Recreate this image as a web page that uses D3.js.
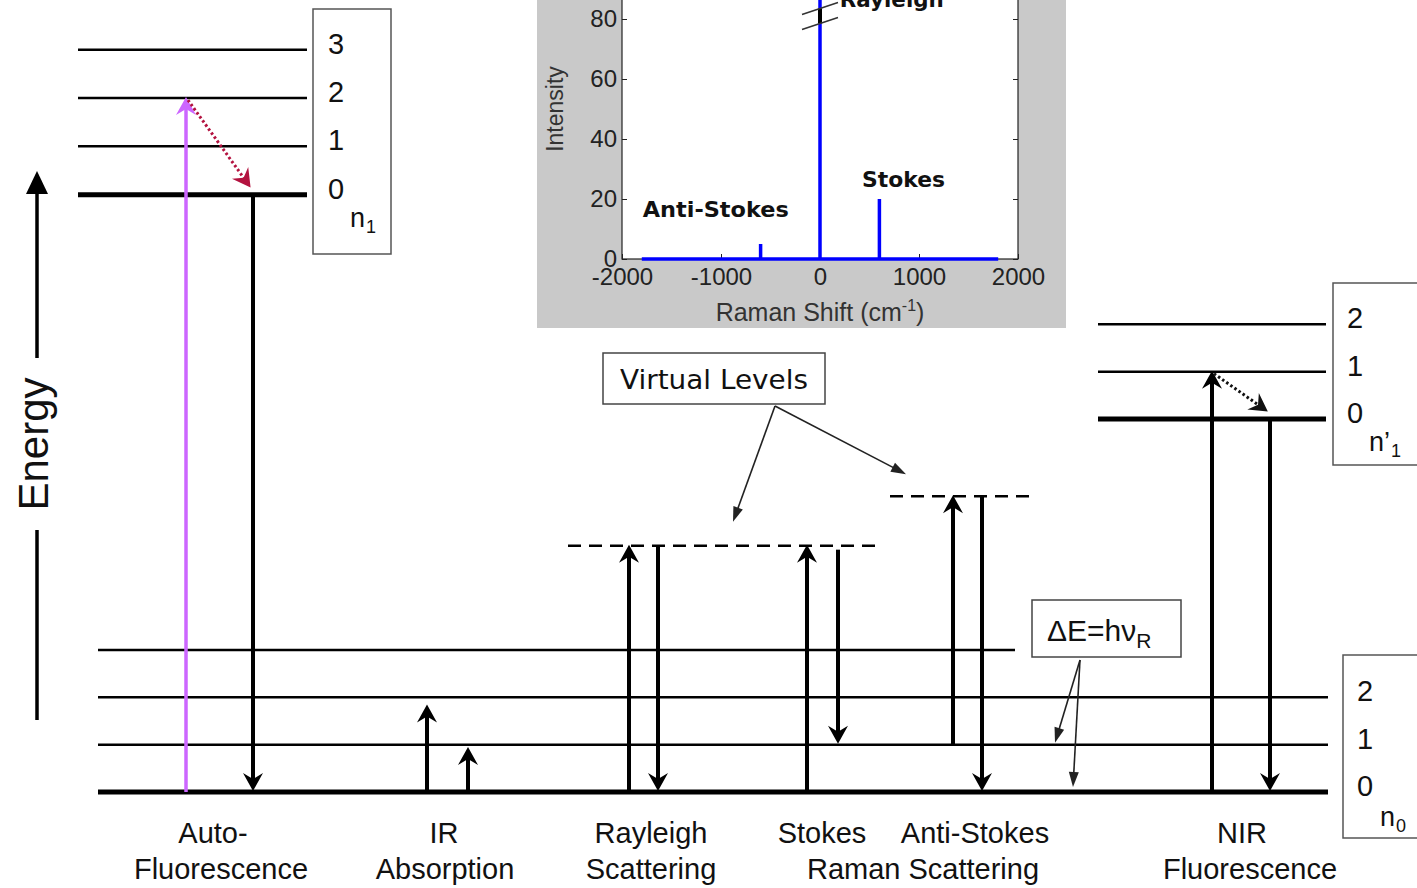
<!DOCTYPE html>
<html>
<head>
<meta charset="utf-8">
<script src="https://cdnjs.cloudflare.com/ajax/libs/d3/7.8.5/d3.min.js"></script>
<style>
  body { margin: 0; background: #fff; }
  svg { display: block; }
</style>
</head>
<body>
<svg id="chart" width="1417" height="888"></svg>
<script>
// ---- data ----
// energies in arbitrary units (1 unit = one ground-state vibrational quantum)
var groundLevels = [0, 1, 2, 3];
var n1Levels = [12.62, 13.64, 14.66, 15.68];      // electronic state n1, v = 0..3
var n1pLevels = [7.88, 8.88, 9.88];               // electronic state n'1, v = 0..2
var virtualLevels = [5.2, 6.25];
var levelLabels0 = ["0", "1", "2"];
var levelLabels1 = ["0", "1", "2", "3"];
var levelLabels1p = ["0", "1", "2"];

// transitions: column, start energy, end energy, kind
var transitions = [
  {col: "autoUp",   from: 0,            to: n1Levels[2],  kind: "laser"},
  {col: "autoDown", from: n1Levels[0],  to: 0,            kind: "down"},
  {col: "irA",      from: 0,            to: 1.83,         kind: "up"},
  {col: "irB",      from: 0,            to: 0.93,         kind: "up"},
  {col: "rayUp",    from: 0,            to: 5.2,          kind: "up"},
  {col: "rayDown",  from: 5.2,          to: 0,            kind: "down"},
  {col: "stkUp",    from: 0,            to: 5.2,          kind: "up"},
  {col: "stkDown",  from: 5.12,         to: 1,            kind: "down"},
  {col: "asUp",     from: 1,            to: 6.25,         kind: "up"},
  {col: "asDown",   from: 6.25,         to: 0,            kind: "down"},
  {col: "nirUp",    from: 0,            to: n1pLevels[1], kind: "up"},
  {col: "nirDown",  from: n1pLevels[0], to: 0,            kind: "down"}
];
var relaxations = [
  {from: "autoUp", to: "autoDown", e0: n1Levels[2], e1: n1Levels[0], color: "#b3123f"},
  {from: "nirUp",  to: "nirDown",  e0: n1pLevels[1], e1: n1pLevels[0], color: "#111"}
];

var processTop = ["Auto-", "IR", "Rayleigh", "Stokes", "Anti-Stokes", "NIR"];
var processBottom = ["Fluorescence", "Absorption", "Scattering", "Raman Scattering", "Fluorescence"];

// inset spectrum
var shiftTicks = [-2000, -1000, 0, 1000, 2000];
var intensityTicks = [0, 20, 40, 60, 80, 100];
var baseRange = [-1800, 1800];
var peakShift = [-600, 0, 600];
var peakIntensity = [5, 115, 20];
var peakNames = ["Anti-Stokes", "Rayleigh", "Stokes"];

// ---- layout ----
var svg = d3.select("#chart");
var font = "'Liberation Sans', Arial, sans-serif";
var comic = "'DejaVu Sans', sans-serif";

var yE = d3.scaleLinear().domain([0, 15]).range([792, 82]);
var colX = d3.scaleOrdinal()
  .domain(["autoUp", "autoDown", "irA", "irB", "rayUp", "rayDown", "stkUp", "stkDown",
           "asUp", "asDown", "nirUp", "nirDown"])
  .range([186, 253, 427, 468, 629, 658, 807, 838, 953, 982, 1212, 1270]);

function head(g, x, y, ang, color, kind) {
  var d = kind == "thin" ? "M0,0 L-15,-5 L-15,5 Z" : "M1,0 L-17,-10 L-11,0 L-17,10 Z";
  g.append("path")
    .attr("d", d)
    .attr("fill", color)
    .attr("transform", "translate(" + x + "," + y + ") rotate(" + ang + ")");
}

function arrow(g, x1, y1, x2, y2, opt) {
  var ang = Math.atan2(y2 - y1, x2 - x1);
  var back = opt.back || 10;
  g.append("line")
    .attr("x1", x1).attr("y1", y1)
    .attr("x2", x2 - back * Math.cos(ang)).attr("y2", y2 - back * Math.sin(ang))
    .attr("stroke", opt.color)
    .attr("stroke-width", opt.width)
    .attr("stroke-dasharray", opt.dash || null);
  head(g, x2, y2, ang * 180 / Math.PI, opt.color, opt.head);
}

// ---- inset spectrum (drawn first, sits behind) ----
var inset = svg.append("g");
inset.append("rect")
  .attr("x", 537).attr("y", -5).attr("width", 529).attr("height", 333)
  .attr("fill", "#c9c9c9");

var xS = d3.scaleLinear().domain([-2000, 2000]).range([622, 1018]);
var yS = d3.scaleLinear().domain([0, 100]).range([259, -41]);

inset.append("rect")
  .attr("x", xS(-2000)).attr("y", yS(100))
  .attr("width", xS(2000) - xS(-2000)).attr("height", yS(0) - yS(100))
  .attr("fill", "#fff").attr("stroke", "#222").attr("stroke-width", 1.2);

var ax = inset.append("g")
  .attr("transform", "translate(0," + yS(0) + ")")
  .call(d3.axisBottom(xS).tickValues(shiftTicks).tickSizeInner(-5).tickSizeOuter(0).tickPadding(9)
    .tickFormat(function(d) { return String(d); }));
var ay = inset.append("g")
  .attr("transform", "translate(" + xS(-2000) + ",0)")
  .call(d3.axisLeft(yS).tickValues(intensityTicks).tickSizeInner(-5).tickSizeOuter(0).tickPadding(5));
var ayr = inset.append("g")
  .attr("transform", "translate(" + xS(2000) + ",0)")
  .call(d3.axisRight(yS).tickValues(intensityTicks).tickSizeInner(-5).tickSizeOuter(0).tickFormat(""));
[ax, ay, ayr].forEach(function(a) {
  a.select(".domain").remove();
  a.selectAll("line").attr("stroke", "#222");
  a.selectAll("text").attr("font-family", font).attr("font-size", 24).attr("fill", "#222");
});

inset.append("text")
  .attr("transform", "translate(563," + yS(50) + ") rotate(-90)")
  .attr("text-anchor", "middle")
  .attr("font-family", font).attr("font-size", 23).attr("fill", "#333")
  .text("Intensity");
var xt = inset.append("text")
  .attr("x", xS(0)).attr("y", 321)
  .attr("text-anchor", "middle")
  .attr("font-family", font).attr("font-size", 25).attr("fill", "#333");
xt.append("tspan").text("Raman Shift (cm");
xt.append("tspan").attr("font-size", 16).attr("dy", -10).text("-1");
xt.append("tspan").attr("dy", 10).text(")");

inset.append("line")
  .attr("x1", xS(baseRange[0])).attr("x2", xS(baseRange[1]))
  .attr("y1", yS(0)).attr("y2", yS(0))
  .attr("stroke", "#0000ff").attr("stroke-width", 3.5);
inset.selectAll(".peak")
  .data(peakShift)
  .enter().append("line")
  .attr("x1", function(d) { return xS(d); })
  .attr("x2", function(d) { return xS(d); })
  .attr("y1", yS(0))
  .attr("y2", function(d, i) { return yS(peakIntensity[i]); })
  .attr("stroke", "#0000ff").attr("stroke-width", 3.5);

// axis break on the Rayleigh line
inset.append("line")
  .attr("x1", xS(0)).attr("x2", xS(0))
  .attr("y1", yS(78.5)).attr("y2", yS(83.5))
  .attr("stroke", "#000").attr("stroke-width", 4);
[78.5, 83.5].forEach(function(v) {
  inset.append("line")
    .attr("x1", xS(0) - 18).attr("y1", yS(v) + 6)
    .attr("x2", xS(0) + 18).attr("y2", yS(v) - 6)
    .attr("stroke", "#333").attr("stroke-width", 1.4);
});

var peakLabelPos = [[-1790, 14], [200, 84], [425, 24]];
inset.selectAll(".plabel")
  .data(peakNames)
  .enter().append("text")
  .attr("x", function(d, i) { return xS(peakLabelPos[i][0]); })
  .attr("y", function(d, i) { return yS(peakLabelPos[i][1]); })
  .attr("font-family", comic).attr("font-weight", "bold").attr("font-size", 21)
  .attr("fill", "#111")
  .attr("textLength", function(d, i) { return [146, 104, 83][i]; })
  .attr("lengthAdjust", "spacingAndGlyphs")
  .text(function(d) { return d; });

// ---- energy levels ----
var lv = svg.append("g");
function levelLine(e, x1, x2, thick) {
  lv.append("line")
    .attr("x1", x1).attr("x2", x2)
    .attr("y1", yE(e)).attr("y2", yE(e))
    .attr("stroke", "#000").attr("stroke-width", thick ? 5 : 2.5);
}
groundLevels.forEach(function(e, i) { levelLine(e, 98, i == 3 ? 1015 : 1328, i == 0); });
n1Levels.forEach(function(e, i) { levelLine(e, 78, 307, i == 0); });
n1pLevels.forEach(function(e, i) { levelLine(e, 1098, 1326, i == 0); });

// virtual levels
[[568, 883], [890, 1035]].forEach(function(r, i) {
  lv.append("line")
    .attr("x1", r[0]).attr("x2", r[1])
    .attr("y1", yE(virtualLevels[i])).attr("y2", yE(virtualLevels[i]))
    .attr("stroke", "#000").attr("stroke-width", 2.5)
    .attr("stroke-dasharray", "13,8");
});

// quantum-number boxes
function qbox(x, y, w, h, levels, labels, lx, name, sub, nx, ny) {
  var g = svg.append("g");
  g.append("rect").attr("x", x).attr("y", y).attr("width", w).attr("height", h)
    .attr("fill", "#fff").attr("stroke", "#555").attr("stroke-width", 1.5);
  g.selectAll("text.q")
    .data(labels)
    .enter().append("text")
    .attr("x", lx)
    .attr("y", function(d, i) { return yE(levels[i]) + 4; })
    .attr("font-family", font).attr("font-size", 29).attr("fill", "#111")
    .text(function(d) { return d; });
  var t = g.append("text").attr("x", nx).attr("y", ny)
    .attr("font-family", font).attr("font-size", 27).attr("fill", "#111");
  t.append("tspan").text(name);
  t.append("tspan").attr("font-size", 18).attr("dy", 6).attr("dx", 1).text(sub);
}
qbox(313, 9, 78, 245, n1Levels, levelLabels1, 328, "n", "1", 350, 227);
qbox(1333, 283, 100, 182, n1pLevels, levelLabels1p, 1347, "n\u2019", "1", 1369, 451);
qbox(1343, 655, 90, 183, groundLevels.slice(0, 3), levelLabels0, 1357, "n", "0", 1380, 826);

// ---- transitions ----
var tr = svg.append("g");
transitions.forEach(function(t) {
  var x = colX(t.col);
  var up = t.to > t.from;
  var color = t.kind == "laser" ? "#cc66ff" : "#000";
  var y2 = yE(t.to) + (up ? 0 : -2);
  arrow(tr, x, yE(t.from), x, y2, {color: color, width: t.kind == "laser" ? 3.5 : 4});
});
relaxations.forEach(function(r) {
  var x1 = colX(r.from) + 2, x2 = colX(r.to) - 3;
  arrow(tr, x1, yE(r.e0) + 2, x2, yE(r.e1) - 8,
    {color: r.color, width: 3, dash: "2.5,2.5", back: 9});
});

// ---- annotation boxes ----
var an = svg.append("g");
an.append("rect").attr("x", 603).attr("y", 353).attr("width", 222).attr("height", 51)
  .attr("fill", "#fff").attr("stroke", "#444").attr("stroke-width", 1.5);
an.append("text").attr("x", 714).attr("y", 389).attr("text-anchor", "middle")
  .attr("font-family", comic).attr("font-size", 27).attr("fill", "#111")
  .attr("textLength", 188).attr("lengthAdjust", "spacingAndGlyphs")
  .text("Virtual Levels");
arrow(an, 775, 406, 733, yE(virtualLevels[0]) - 24, {color: "#222", width: 1.6, head: "thin", back: 12});
arrow(an, 775, 406, 906, yE(virtualLevels[1]) - 22, {color: "#222", width: 1.6, head: "thin", back: 12});

an.append("rect").attr("x", 1032).attr("y", 600).attr("width", 149).attr("height", 57)
  .attr("fill", "#fff").attr("stroke", "#444").attr("stroke-width", 1.5);
var de = an.append("text").attr("x", 1047).attr("y", 641)
  .attr("font-family", font).attr("font-size", 30).attr("fill", "#111");
de.append("tspan").text("\u0394E=h\u03bd");
de.append("tspan").attr("font-size", 21).attr("dy", 7).text("R");
arrow(an, 1080, 660, 1055, yE(1) - 2, {color: "#222", width: 1.6, head: "thin", back: 12});
arrow(an, 1080, 660, 1073, yE(0) - 5, {color: "#222", width: 1.6, head: "thin", back: 12});

// ---- energy axis ----
var en = svg.append("g");
en.append("line").attr("x1", 37).attr("x2", 37).attr("y1", 720).attr("y2", 530)
  .attr("stroke", "#000").attr("stroke-width", 3.5);
en.append("line").attr("x1", 37).attr("x2", 37).attr("y1", 358).attr("y2", 190)
  .attr("stroke", "#000").attr("stroke-width", 3.5);
en.append("path").attr("d", "M37,171 L26,194 L48,194 Z").attr("fill", "#000");
en.append("text")
  .attr("transform", "translate(48,444) rotate(-90)")
  .attr("text-anchor", "middle")
  .attr("font-family", font).attr("font-size", 42).attr("fill", "#111")
  .text("Energy");

// ---- process labels ----
var topX = [213, 444, 651, 822, 975, 1242];
var botX = [221, 445, 651, 923, 1250];
var lb = svg.append("g")
  .attr("font-family", font).attr("font-size", 29).attr("fill", "#111")
  .attr("text-anchor", "middle");
lb.selectAll(".t1").data(processTop).enter().append("text")
  .attr("x", function(d, i) { return topX[i]; }).attr("y", 843)
  .text(function(d) { return d; });
lb.selectAll(".t2").data(processBottom).enter().append("text")
  .attr("x", function(d, i) { return botX[i]; }).attr("y", 879)
  .text(function(d) { return d; });
</script>
</body>
</html>
